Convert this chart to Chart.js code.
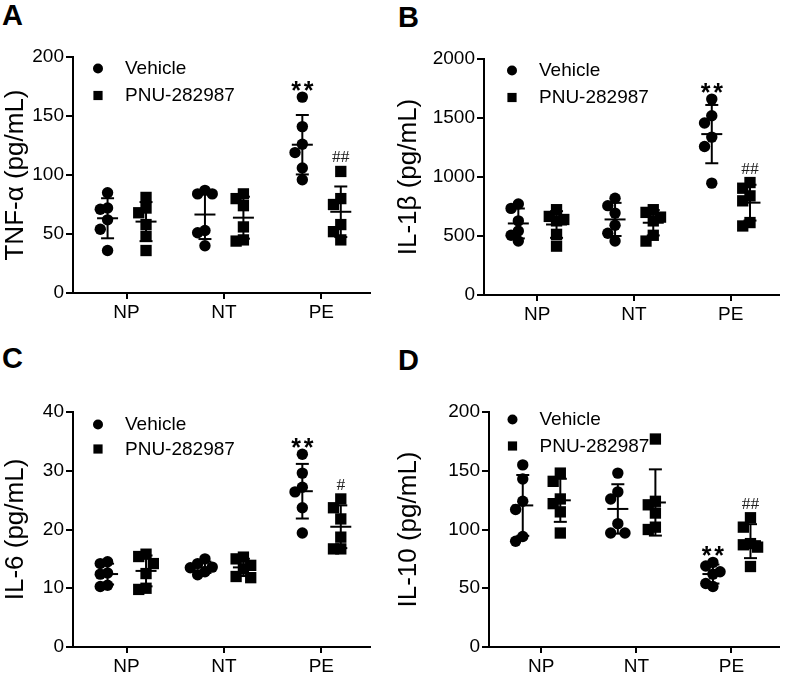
<!DOCTYPE html>
<html>
<head>
<meta charset="utf-8">
<script src="https://cdn.jsdelivr.net/npm/chart.js@4.4.1/dist/chart.umd.min.js"></script>
<style>
  body { margin: 0; background: #fff; width: 787px; height: 676px; position: relative; overflow: hidden; }
  canvas { position: absolute; }
  .tag { position: absolute; font: bold 29px "Liberation Sans", Arial, sans-serif; line-height: 29px; color: #000; }
</style>
</head>
<body>
<div class="tag" style="left:2px;top:1px">A</div>
<div class="tag" style="left:398px;top:3px">B</div>
<div class="tag" style="left:2px;top:344px">C</div>
<div class="tag" style="left:398px;top:346px">D</div>
<canvas id="chartA" width="393" height="330" style="left:0;top:0"></canvas>
<canvas id="chartB" width="394" height="330" style="left:393px;top:0"></canvas>
<canvas id="chartC" width="393" height="346" style="left:0;top:330px"></canvas>
<canvas id="chartD" width="394" height="346" style="left:393px;top:330px"></canvas>
<script>
const groups = ['NP', 'NT', 'PE'];
const seriesNames = ['Vehicle', 'PNU-282987'];

// each inner array is one group: NP, NT, PE (n = 6)
const tnfVehicle = [[85, 72, 71, 62, 54, 36], [87, 84, 84, 53, 51, 40], [166, 141, 126, 119, 106, 96]];
const tnfPnu = [[81, 72, 68, 58, 48, 36], [84, 80, 74, 56, 45, 44], [103, 80, 75, 58, 52, 45]];
const tnfMarks = [['', '', '**'], ['', '', '##']];

const il1bVehicle = [[771, 734, 628, 542, 506, 457], [820, 757, 694, 591, 523, 457], [1660, 1519, 1457, 1338, 1259, 948]];
const il1bPnu = [[723, 666, 640, 628, 514, 414], [723, 700, 660, 628, 506, 457], [953, 905, 840, 798, 614, 585]];
const il1bMarks = [['', '', '**'], ['', '', '##']];

const il6Vehicle = [[14.5, 14.2, 12.6, 12.4, 10.5, 10.3], [15.0, 14.2, 13.6, 13.5, 12.8, 12.3], [32.8, 29.6, 27.2, 26.4, 23.7, 19.4]];
const il6Pnu = [[15.8, 15.4, 14.2, 12.5, 10.0, 9.8], [15.3, 15.0, 13.9, 13.3, 12.0, 11.8], [25.2, 23.7, 21.8, 18.7, 16.7, 16.7]];
const il6Marks = [['', '', '**'], ['', '', '#']];

const il10Vehicle = [[155, 143, 124, 117, 94, 90], [148, 132, 126, 105, 97, 97], [72, 69, 64, 62, 54, 51.5]];
const il10Pnu = [[148, 141, 126, 122, 115, 97], [177, 124, 121, 114, 102, 100], [110, 102, 88, 87, 85, 68.5]];
const il10Marks = [['', '', '**'], ['', '', '##']];

const FONT = '"Liberation Sans", Arial, sans-serif';

const panels = [
  { id: 'chartA', title: 'TNF-α (pg/mL)', data: [tnfVehicle, tnfPnu], marks: tnfMarks, max: 200, step: 50,
    area: { left: 73, top: 57, right: 370, bottom: 293 }, legend: { x: 25, y: 11.5, gap: 27 } },
  { id: 'chartB', title: 'IL-1β (pg/mL)', data: [il1bVehicle, il1bPnu], marks: il1bMarks, max: 2000, step: 500,
    area: { left: 91, top: 59, right: 392, bottom: 295 }, legend: { x: 28, y: 11.5, gap: 27 } },
  { id: 'chartC', title: 'IL-6 (pg/mL)', data: [il6Vehicle, il6Pnu], marks: il6Marks, max: 40, step: 10,
    area: { left: 73, top: 82, right: 370, bottom: 317 }, legend: { x: 25, y: 12.5, gap: 24.5 } },
  { id: 'chartD', title: 'IL-10 (pg/mL)', data: [il10Vehicle, il10Pnu], marks: il10Marks, max: 200, step: 50,
    area: { left: 96, top: 82, right: 392, bottom: 317 }, legend: { x: 23.5, y: 7.5, gap: 26.5 } }
];

const sideOffset = [-0.195, 0.2];
const pointStyles = ['circle', 'rect'];
const pointRadii = [5.7, 8];

const mean = a => a.reduce((s, v) => s + v, 0) / a.length;
const sd = a => { const m = mean(a); return Math.sqrt(a.reduce((s, v) => s + (v - m) * (v - m), 0) / (a.length - 1)); };

// prism-like spreading of points that would overlap
function spread(values, center, range) {
  const step = 0.075, near = range * 0.042;
  const placed = [];
  const order = values.map((v, i) => i).sort((a, b) => values[b] - values[a]);
  order.forEach(i => {
    const v = values[i];
    let best = null, bestHits = Infinity;
    for (const k of [0, -1, 1, -2, 2]) {
      const dx = k * step;
      const hits = placed.filter(p => Math.abs(p.dx - dx) < step * 0.9 && Math.abs(p.v - v) < near).length;
      if (hits < bestHits) { best = dx; bestHits = hits; }
      if (hits === 0) break;
    }
    placed.push({ dx: best, v });
  });
  return placed.map(p => ({ x: center + p.dx, y: p.v }));
}

function makeOverlay(panel) {
  return {
    id: 'overlay_' + panel.id,
    afterDatasetsDraw(chart) {
      const { ctx, scales: { x, y }, chartArea } = chart;
      ctx.save();
      ctx.strokeStyle = '#000';
      ctx.lineWidth = 2;
      const seg = (x1, y1, x2, y2) => { ctx.beginPath(); ctx.moveTo(x1, y1); ctx.lineTo(x2, y2); ctx.stroke(); };
      panel.data.forEach((series, si) => {
        series.forEach((vals, gi) => {
          const m = mean(vals), s = sd(vals);
          const cx = x.getPixelForValue(gi + 1 + sideOffset[si]);
          const ym = y.getPixelForValue(m), yt = y.getPixelForValue(m + s), yb = y.getPixelForValue(m - s);
          seg(cx - 10.5, ym, cx + 10.5, ym);
          seg(cx, yt, cx, yb);
          seg(cx - 6.5, yt, cx + 6.5, yt);
          seg(cx - 6.5, yb, cx + 6.5, yb);
          const mark = panel.marks[si][gi];
          if (mark) {
            const top = y.getPixelForValue(Math.max(...vals));
            ctx.fillStyle = '#000';
            ctx.textAlign = 'center';
            ctx.textBaseline = 'alphabetic';
            if (mark[0] === '*') {
              ctx.font = 'bold 25px ' + FONT;
              [...mark].forEach((c, k) => ctx.fillText(c, cx + (k - (mark.length - 1) / 2) * 12.5, top + 2));
            } else {
              ctx.fillStyle = '#222';
              ctx.font = '17.5px "Liberation Serif", "Times New Roman", serif';
              ctx.fillText(mark, cx, top - 9);
            }
          }
        });
      });
      // legend inside the plot, top-left
      const lg = panel.legend;
      ctx.fillStyle = '#000';
      ctx.font = '19px ' + FONT;
      ctx.textAlign = 'left';
      ctx.textBaseline = 'middle';
      seriesNames.forEach((name, i) => {
        const mx = chartArea.left + lg.x, my = chartArea.top + lg.y + i * lg.gap;
        ctx.beginPath();
        if (i === 0) ctx.arc(mx, my, 5, 0, Math.PI * 2);
        else ctx.rect(mx - 4.6, my - 4.6, 9.2, 9.2);
        ctx.fill();
        ctx.fillText(name, mx + 27, my + 0.5);
      });
      ctx.restore();
    }
  };
}

panels.forEach(panel => {
  const canvas = document.getElementById(panel.id);
  const W = canvas.width, H = canvas.height, a = panel.area;
  const datasets = panel.data.map((series, si) => ({
    label: seriesNames[si],
    data: series.flatMap((vals, gi) => spread(vals, gi + 1 + sideOffset[si], panel.max)),
    pointStyle: pointStyles[si],
    pointRadius: pointRadii[si],
    pointHoverRadius: pointRadii[si],
    backgroundColor: '#000',
    borderColor: '#000',
    borderWidth: 0
  }));
  const axisLine = { display: true, color: '#000', width: 2 };
  new Chart(canvas, {
    type: 'scatter',
    data: { datasets },
    options: {
      responsive: false,
      animation: false,
      events: [],
      layout: { padding: { left: 0, top: a.top, right: W - a.right, bottom: 0 } },
      plugins: { legend: { display: false }, tooltip: { enabled: false } },
      scales: {
        x: {
          type: 'linear', min: 0.45, max: 3.5,
          afterBuildTicks: s => { s.ticks = groups.map((g, i) => ({ value: i + 1 })); },
          afterFit: s => { s.height = H - a.bottom; },
          ticks: { callback: v => groups[v - 1] || '', font: { family: FONT, size: 19 }, color: '#000', padding: 2, maxRotation: 0, autoSkip: false },
          grid: { display: true, drawOnChartArea: false, drawTicks: true, tickLength: 6, color: '#000', lineWidth: 2 },
          border: axisLine
        },
        y: {
          min: 0, max: panel.max,
          afterFit: s => { s.width = a.left; },
          ticks: { stepSize: panel.step, callback: v => String(v), font: { family: FONT, size: 19 }, color: '#000', padding: 2 },
          grid: { display: true, drawOnChartArea: false, drawTicks: true, tickLength: 7, color: '#000', lineWidth: 2 },
          border: axisLine,
          title: { display: true, text: panel.title, font: { family: FONT, size: 26 }, color: '#000', padding: { top: 0, bottom: 0 } }
        }
      }
    },
    plugins: [makeOverlay(panel)]
  });
});
</script>
</body>
</html>
